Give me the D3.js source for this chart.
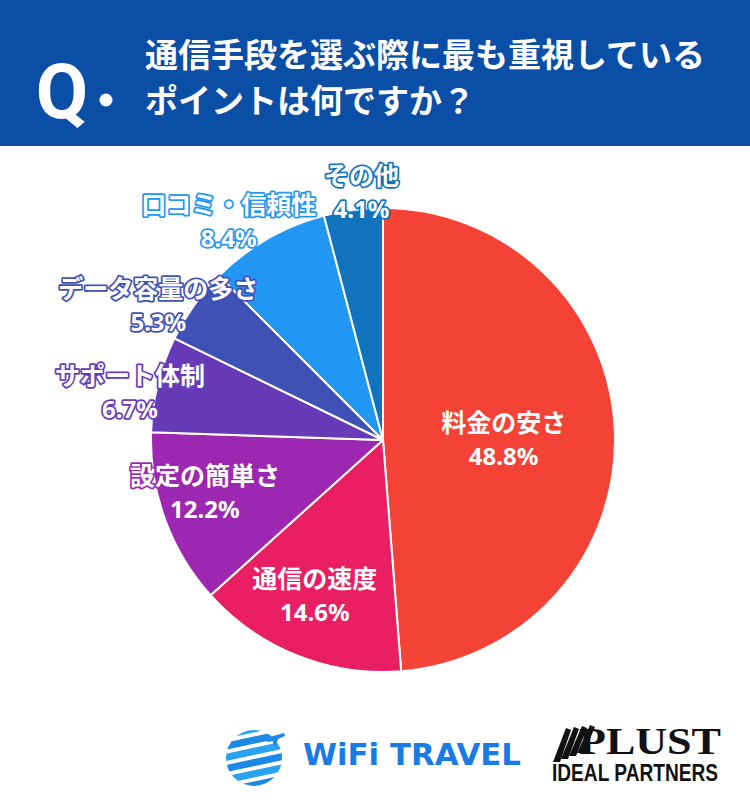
<!DOCTYPE html>
<html><head><meta charset="utf-8">
<script src="https://cdn.jsdelivr.net/npm/d3@7"></script>
<style>html,body{margin:0;padding:0;background:#fff;}svg{display:block;}</style>
</head><body>
<svg id="chart" width="750" height="800"></svg>
<script>
const categories = ["料金の安さ","通信の速度","設定の簡単さ","サポート体制","データ容量の多さ","口コミ・信頼性","その他"];
const values = [48.8, 14.6, 12.2, 6.7, 5.3, 8.4, 4.1];
const valueLabels = ["48.8%","14.6%","12.2%","6.7%","5.3%","8.4%","4.1%"];
const titleLines = ["通信手段を選ぶ際に最も重視している","ポイントは何ですか？"];

const colors = ["#f44336","#e91e63","#9c27b0","#673ab7","#3f51b5","#2196f3","#1173bd"];
// label placement: radius factor and angle shift (degrees) relative to slice middle
const labelLayout = [
  {rf:0.52, da:1.7},{rf:0.73, da:2},{rf:0.80, da:3.7},{rf:1.11, da:-3.2},
  {rf:1.13, da:-4.5},{rf:1.155, da:-5.3},{rf:1.073, da:2.4}
];

const svg = d3.select("#chart");
const W = 750;

// header
svg.append("rect").attr("x",0).attr("y",0).attr("width",W).attr("height",146).attr("fill","#0a4ea6");
svg.append("text").attr("x",62).attr("y",118).attr("text-anchor","middle")
  .attr("font-family","Roboto, 'Noto Sans', sans-serif").attr("font-weight",700)
  .attr("font-size",76).attr("fill","#fff").text("Q");
svg.append("circle").attr("cx",106).attr("cy",100).attr("r",6.5).attr("fill","#fff");
svg.selectAll("text.title").data(titleLines).join("text").attr("class","title")
  .attr("x",145).attr("y",(d,i)=>67+i*46)
  .attr("font-family","'Noto Sans CJK JP', sans-serif").attr("font-weight",700)
  .attr("font-size",33).attr("fill","#fff").text(d=>d);

// pie
const cx = 383, cy = 440, R = 232;
const pie = d3.pie().sort(null).value(d=>d);
const arcs = pie(values);
const arc = d3.arc().innerRadius(0).outerRadius(R);
const g = svg.append("g").attr("transform",`translate(${cx},${cy})`);
g.selectAll("path").data(arcs).join("path")
  .attr("d",arc).attr("fill",(d,i)=>colors[i])
  .attr("stroke","#fff").attr("stroke-width",2).attr("stroke-linejoin","round");

// labels
const lab = g.selectAll("g.lab").data(arcs).join("g").attr("class","lab")
  .attr("transform",(d,i)=>{
    const L = labelLayout[i];
    const a = (d.startAngle+d.endAngle)/2 + L.da*Math.PI/180;
    const r = R*L.rf;
    return `translate(${r*Math.sin(a)},${-r*Math.cos(a)})`;
  });
function styleText(sel, i){
  sel.attr("text-anchor","middle").attr("fill","#fff")
    .attr("stroke",colors[i]).attr("stroke-width",3.5).attr("stroke-linejoin","round")
    .style("paint-order","stroke");
}
lab.each(function(d,i){
  const s = d3.select(this);
  s.append("text").attr("y",-7).attr("font-family","'Noto Sans CJK JP', sans-serif")
    .attr("font-weight",700).attr("font-size",25).text(categories[i]).call(styleText,i);
  s.append("text").attr("y",26).attr("font-family","'Noto Sans', 'Noto Sans CJK JP', sans-serif")
    .attr("font-weight",700).attr("font-size",24).text(valueLabels[i]).call(styleText,i);
});

// WiFi TRAVEL logo
const defs = svg.append("defs");
defs.append("clipPath").attr("id","globe").append("circle").attr("cx",254).attr("cy",758).attr("r",28);
const globe = svg.append("g").attr("clip-path","url(#globe)");
[0,1,2,3,4,5].forEach(k=>{
  globe.append("rect").attr("x",214).attr("y",726+k*11).attr("width",90).attr("height",7)
    .attr("rx",3.5).attr("fill",k%2?"#1e88e5":"#29a3f0")
    .attr("transform",`rotate(-12,254,758) translate(${k%2?8:-6},0)`);
});
svg.append("path").attr("d","M266,738 L284,733 L285,736 L278,739 L276,745 L273,745 L273,741 L267,742 Z").attr("fill","#1e88e5");
svg.append("text").attr("x",303).attr("y",765).attr("font-family","'DejaVu Sans', sans-serif")
  .attr("font-weight",700).attr("font-size",30).attr("fill","#1a7be6")
  .attr("textLength",218).attr("lengthAdjust","spacingAndGlyphs").text("WiFi TRAVEL");

// PLUST logo
const pl = svg.append("g").attr("fill","#111");
[0,1,2,3].forEach(k=>{
  pl.append("path").attr("d",`M${553+k*8},${762-k*3} L${566+k*8},${728-k*1} L${571+k*8},${730-k*1} L${560+k*8},${762-k*3} Z`);
});
svg.append("text").attr("x",579).attr("y",754).attr("font-family","'Liberation Serif', serif")
  .attr("font-weight",700).attr("font-size",38).attr("fill","#111")
  .attr("textLength",142).attr("lengthAdjust","spacingAndGlyphs").text("PLUST");
svg.append("text").attr("x",552).attr("y",781).attr("font-family","'Liberation Sans Narrow','Liberation Sans', sans-serif")
  .attr("font-weight",700).attr("font-size",24).attr("fill","#111")
  .attr("textLength",166).attr("lengthAdjust","spacingAndGlyphs").text("IDEAL PARTNERS");
</script>
</body></html>
